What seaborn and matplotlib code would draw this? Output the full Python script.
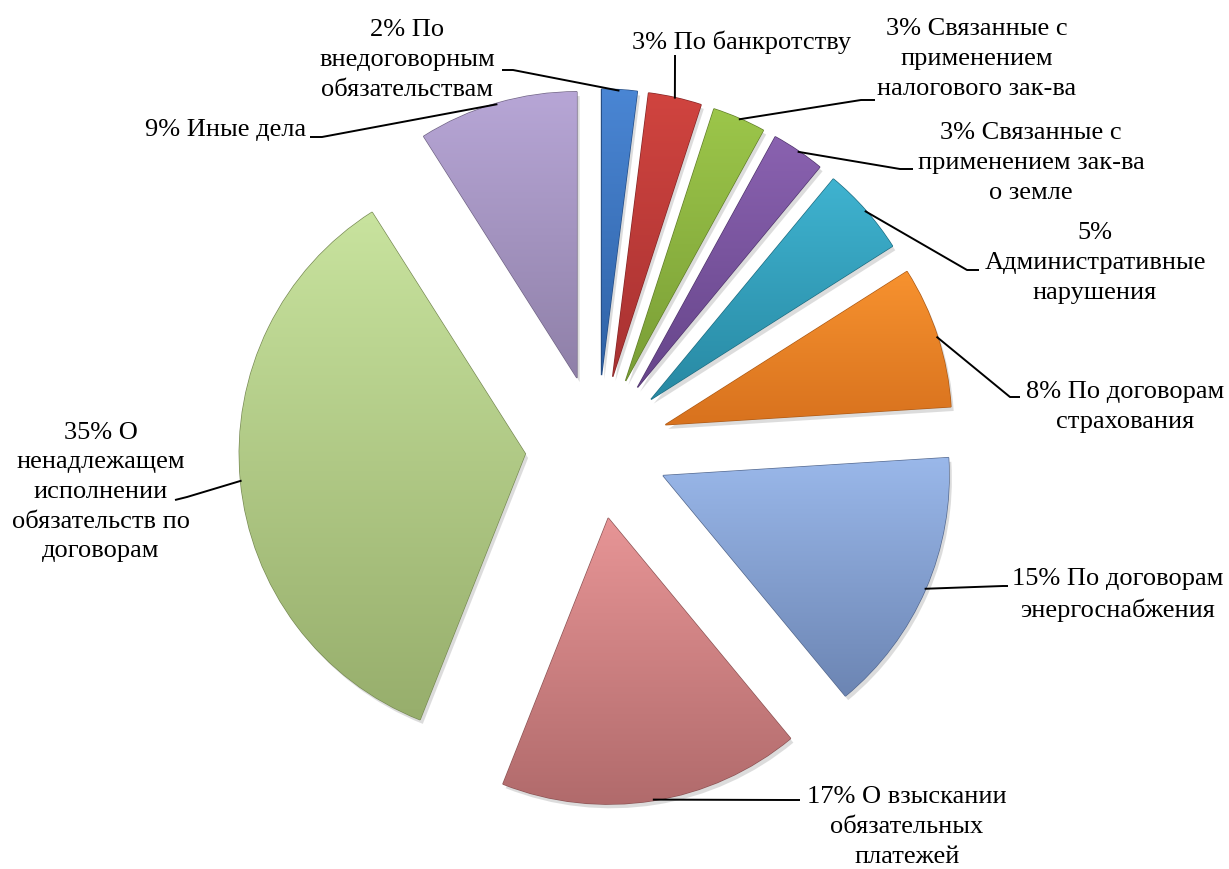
import numpy as np
import matplotlib.pyplot as plt
import matplotlib.patheffects as pe
from matplotlib.colors import to_rgb
import seaborn as sns

# data
names = ["По\nвнедоговорным\nобязательствам",
         "По банкротству",
         "Связанные с\nприменением\nналогового зак-ва",
         "Связанные с\nприменением зак-ва\nо земле",
         "\nАдминистративные\nнарушения",
         "По договорам\nстрахования",
         "По договорам\nэнергоснабжения",
         "О взыскании\nобязательных\nплатежей",
         "О\nненадлежащем\nисполнении\nобязательств по\nдоговорам",
         "Иные дела"]
shares = [2, 3, 3, 3, 5, 8, 15, 17, 35, 9]

# gradient colours (top -> bottom) for each slice
top_colors = ['#4a86d4', '#d0443f', '#9cc64a', '#8a62b0', '#3fb3d0',
              '#f7922f', '#9ab8ea', '#e79596', '#c8e39e', '#b7a6d6']
bottom_colors = ['#2f62a6', '#a83232', '#7a9e36', '#66458a', '#2889a3',
                 '#d8721e', '#6c85b3', '#b06a6b', '#97ae6c', '#8f80a8']

# label layout (pixel space, y down)
label_pos = [(407, 60), (742, 42), (977, 59), (1031, 163), (1095, 263),
             (1125, 407), (1118, 595), (907, 827), (101, 492), (226, 130)]
leader_elbow = [(513, 70), (675, 60), (861, 100), (900, 169), (967, 270),
                (1010, 397), (1003, 586), (790, 800), (187, 497), (322, 137)]
leader_end = [(502, 70), (675, 55), (875, 100), (913, 169), (979, 270),
              (1020, 397), (1008, 586), (800, 800), (175, 500), (310, 137)]

W, H = 1229, 869
CX, CY, R, GAP = 597, 447, 286, 72
SERIF = ['Liberation Serif', 'DejaVu Serif']

sns.set_theme(style="white")
plt.rcParams['font.family'] = SERIF

fig = plt.figure(figsize=(W / 100, H / 100), dpi=100)
ax = fig.add_axes([0, 0, 1, 1])

wedges, _ = ax.pie(shares, colors=top_colors, startangle=-90, counterclock=True,
                   radius=R, center=(CX, CY), explode=[GAP] * len(shares),
                   wedgeprops=dict(linewidth=1.0))

for w, c_top, c_bot in zip(wedges, top_colors, bottom_colors):
    edge = tuple(np.array(to_rgb(c_bot)) * 0.8)
    w.set_edgecolor(edge)
    w.set_path_effects([pe.SimplePatchShadow(offset=(2, -3), shadow_rgbFace='#777777', alpha=0.25),
                        pe.Normal()])
    verts = w.get_path().vertices
    x0, y0 = verts.min(axis=0)
    x1, y1 = verts.max(axis=0)
    t = np.linspace(0, 1, 256)[:, None, None]
    img = np.array(to_rgb(c_top))[None, None, :] * (1 - t) + np.array(to_rgb(c_bot))[None, None, :] * t
    im = ax.imshow(img, extent=(x0, x1, y1, y0), origin='upper', aspect='auto',
                   interpolation='bilinear', zorder=w.get_zorder() + 0.1)
    im.set_clip_path(w)

# labels with leader lines
for w, v, name, pos, elbow, end in zip(wedges, shares, names, label_pos, leader_elbow, leader_end):
    phi = np.deg2rad((w.theta1 + w.theta2) / 2)
    ax_x = w.center[0] + (R - 1) * np.cos(phi)
    ax_y = w.center[1] + (R - 1) * np.sin(phi)
    ax.plot([ax_x, elbow[0], end[0]], [ax_y, elbow[1], end[1]], color='black', lw=1.4,
            zorder=5, solid_capstyle='butt')
    txt = "\n".join(s.strip() for s in f"{v}% {name}".split("\n"))
    ax.text(pos[0], pos[1], txt, ha='center', va='center', fontsize=19,
            family=SERIF, linespacing=1.45, color='black', zorder=6)

ax.set_xlim(0, W)
ax.set_ylim(H, 0)
ax.axis('off')

plt.savefig("out.png", dpi=100, facecolor='white')
